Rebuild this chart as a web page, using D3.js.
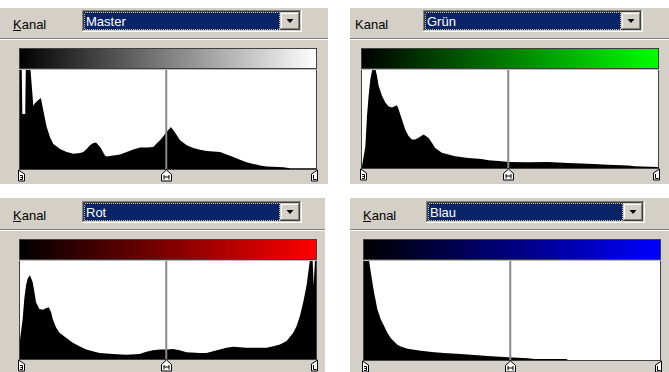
<!DOCTYPE html>
<html>
<head>
<meta charset="utf-8">
<script src="https://cdn.jsdelivr.net/npm/d3@7"></script>
<style>
  html, body { margin: 0; padding: 0; background: #fff; }
  svg { display: block; }
</style>
</head>
<body>
<svg id="chart" width="669" height="372"></svg>
<script>
// channel names and the label in front of each dropdown
const channels = ["Master", "Grün", "Rot", "Blau"];
const labelText = "Kanal";
const gradientEnd = ["#ffffff", "#00ff00", "#ff0000", "#0000ff"];
// slider positions (black, gray, white) on the 0..255 tone axis
const sliderLevels = [0, 126, 255];

// histograms: [tone level, relative height 0..1]
const masterHist = [
  [0, 1], [1.5, 1], [2, 0.55], [4.5, 0.55], [5, 1], [9, 1], [11.5, 0.63], [13, 0.66],
  [15.8, 0.69], [18, 0.71], [20, 0.59], [23, 0.42], [25.8, 0.32], [28.7, 0.25],
  [34.5, 0.2], [40.2, 0.17], [46, 0.153], [51.7, 0.159], [54.6, 0.169], [57.4, 0.2],
  [60.3, 0.237], [63.2, 0.26], [65.5, 0.264], [69, 0.22], [73.2, 0.136], [74.7, 0.125],
  [80.4, 0.136], [86.2, 0.146], [91.9, 0.169], [97.6, 0.196], [103.4, 0.214],
  [109.1, 0.214], [114.9, 0.22], [117.7, 0.254], [120.6, 0.288], [123.5, 0.328],
  [126.3, 0.373], [129.2, 0.407], [129.8, 0.42], [132, 0.39], [135, 0.34], [137.9, 0.288],
  [143.6, 0.237], [149.3, 0.21], [155, 0.193], [160.8, 0.18], [172.3, 0.169],
  [178, 0.146], [183.8, 0.119], [189.5, 0.092], [195.3, 0.068], [201, 0.051],
  [206.8, 0.034], [212.5, 0.024], [226.9, 0.017], [232.6, 0.007], [255, 0.007]
];
const gruenHist = [
  [0, 0.017], [2.9, 0.22], [4.3, 0.525], [5.7, 0.729], [7.2, 0.898], [8.6, 0.983],
  [10, 1], [11.5, 1], [12.9, 0.932], [14.3, 0.83], [17.2, 0.729], [20.1, 0.661],
  [22.9, 0.62], [25.8, 0.61], [30.1, 0.634], [31.5, 0.593], [34.4, 0.49], [37.2, 0.39],
  [40.1, 0.322], [43, 0.288], [45.8, 0.288], [48.7, 0.305], [53, 0.339], [57.3, 0.305],
  [60.2, 0.254], [63, 0.203], [68.8, 0.153], [74.5, 0.136], [80.2, 0.119], [91.7, 0.102],
  [103.1, 0.092], [108.9, 0.078], [120.3, 0.068], [126, 0.061], [143.3, 0.058],
  [160.4, 0.061], [177.6, 0.051], [194.8, 0.044], [212, 0.034], [229.2, 0.024],
  [235, 0.017], [255, 0.01]
];
const rotHist = [
  [0, 0.198], [2.3, 0.403], [3.7, 0.608], [5.2, 0.744], [6.6, 0.812], [8.6, 0.846],
  [10.9, 0.778], [12.4, 0.676], [13.8, 0.573], [16.7, 0.505], [19.6, 0.498],
  [22.4, 0.512], [24.8, 0.522], [26.8, 0.471], [28.2, 0.403], [31.1, 0.317], [34, 0.266],
  [39.7, 0.215], [45.5, 0.164], [51.2, 0.13], [57, 0.096], [62.7, 0.078], [68.5, 0.061],
  [80, 0.051], [91.5, 0.044], [103, 0.051], [108.8, 0.072], [114.5, 0.089],
  [120.3, 0.096], [126, 0.096], [131.8, 0.102], [137.6, 0.089], [143.3, 0.068],
  [154.8, 0.061], [160.6, 0.061], [166.3, 0.078], [172.1, 0.096], [177.9, 0.113],
  [183.6, 0.123], [189.4, 0.119], [195.1, 0.113], [212.4, 0.113], [218.2, 0.13],
  [223.9, 0.147], [229.7, 0.181], [235.4, 0.266], [238.3, 0.334], [241.2, 0.437],
  [244, 0.573], [246.9, 0.744], [248.4, 0.881], [249.8, 1], [252.1, 1], [253, 0.744],
  [254.1, 1], [255, 1]
];
const blauHist = [
  [0, 1], [4.3, 1], [5.8, 0.881], [7.2, 0.78], [8.6, 0.678], [10.1, 0.593], [11.5, 0.508],
  [13, 0.458], [14.4, 0.407], [17.3, 0.339], [20.2, 0.271], [23, 0.22], [25.9, 0.186],
  [28.8, 0.153], [31.7, 0.136], [37.5, 0.112], [43.2, 0.102], [49, 0.092], [60.5, 0.078],
  [72, 0.068], [83.5, 0.061], [95.1, 0.051], [106.6, 0.041], [123.9, 0.027],
  [141.2, 0.017], [146.9, 0.01], [174.3, 0.01], [175.7, 0], [255, 0]
];
const histData = [masterHist, gruenHist, rotHist, blauHist];

// where each dialog crop sits in the picture
const layout = [
  { bg: [0, 8, 328, 184], label: [13, 29], underline: true, drop: [82, 10, 302, 32], sep: 38, bar: [19, 48, 317, 68], bottom: 169 },
  { bg: [350, 8, 669, 184], label: [355, 29], underline: false, drop: [423, 10, 643, 32], sep: 38, bar: [361, 48, 659, 68], bottom: 168 },
  { bg: [0, 198, 325, 372], label: [13, 220], underline: true, drop: [82, 201, 302, 223], sep: 229, bar: [19, 239, 317, 259], bottom: 359 },
  { bg: [350, 198, 669, 372], label: [363, 220], underline: true, drop: [426, 201, 645, 223], sep: 229, bar: [363, 239, 661, 259], bottom: 360 }
];

const FACE = "#d4d0c8", SHADOW = "#808080", DARK = "#404040";
const FONT = "'Liberation Sans', Arial, sans-serif";

const svg = d3.select("#chart");
svg.append("rect").attr("width", 669).attr("height", 372).attr("fill", "#fff");
const defs = svg.append("defs");

function hline(g, x1, x2, y, c) {
  g.append("line").attr("x1", x1).attr("x2", x2).attr("y1", y + 0.5).attr("y2", y + 0.5)
    .attr("stroke", c).attr("shape-rendering", "crispEdges");
}
function vline(g, x, y1, y2, c) {
  g.append("line").attr("x1", x + 0.5).attr("x2", x + 0.5).attr("y1", y1).attr("y2", y2)
    .attr("stroke", c).attr("shape-rendering", "crispEdges");
}

channels.forEach((name, i) => {
  const L = layout[i];
  const g = svg.append("g");

  // dialog face
  g.append("rect")
    .attr("x", L.bg[0]).attr("y", L.bg[1])
    .attr("width", L.bg[2] - L.bg[0]).attr("height", L.bg[3] - L.bg[1])
    .attr("fill", FACE);

  // "Kanal" label
  g.append("text")
    .attr("x", L.label[0]).attr("y", L.label[1])
    .attr("font-family", FONT).attr("font-size", "13px").attr("fill", "#000")
    .text(labelText);
  if (L.underline) hline(g, L.label[0], L.label[0] + 8, L.label[1] + 1, "#000");

  // combo box, sunken 3D frame
  const [dx0, dy0, dx1, dy1] = L.drop;
  hline(g, dx0, dx1, dy0, SHADOW);
  vline(g, dx0, dy0, dy1, SHADOW);
  hline(g, dx0, dx1, dy1 - 1, "#fff");
  vline(g, dx1 - 1, dy0, dy1, "#fff");
  hline(g, dx0 + 1, dx1 - 1, dy0 + 1, DARK);
  vline(g, dx0 + 1, dy0 + 1, dy1 - 1, DARK);
  hline(g, dx0 + 1, dx1 - 1, dy1 - 2, FACE);
  vline(g, dx1 - 2, dy0 + 1, dy1 - 1, FACE);

  const bx1 = dx1 - 22;
  g.append("rect")
    .attr("x", dx0 + 2).attr("y", dy0 + 2)
    .attr("width", bx1 - dx0 - 2).attr("height", dy1 - dy0 - 4)
    .attr("fill", "#0a246a");
  g.append("rect")
    .attr("x", dx0 + 2.5).attr("y", dy0 + 2.5)
    .attr("width", bx1 - dx0 - 3).attr("height", dy1 - dy0 - 5)
    .attr("fill", "none").attr("stroke", "#d8c888").attr("stroke-dasharray", "1,1")
    .attr("shape-rendering", "crispEdges");
  g.append("text")
    .attr("x", dx0 + 4).attr("y", dy1 - 6)
    .attr("font-family", FONT).attr("font-size", "13px").attr("fill", "#fff")
    .text(name);

  // drop button, raised
  const bX = bx1, bY = dy0 + 2, bW = dx1 - 2 - bx1, bH = dy1 - dy0 - 4;
  g.append("rect").attr("x", bX).attr("y", bY).attr("width", bW).attr("height", bH).attr("fill", FACE);
  hline(g, bX, bX + bW, bY, FACE);
  vline(g, bX, bY, bY + bH, FACE);
  hline(g, bX + 1, bX + bW - 1, bY + 1, "#fff");
  vline(g, bX + 1, bY + 1, bY + bH - 1, "#fff");
  hline(g, bX, bX + bW, bY + bH - 1, DARK);
  vline(g, bX + bW - 1, bY, bY + bH, DARK);
  hline(g, bX + 1, bX + bW - 1, bY + bH - 2, SHADOW);
  vline(g, bX + bW - 2, bY + 1, bY + bH - 1, SHADOW);
  const ax = bX + bW / 2, ay = bY + bH / 2 - 1;
  g.append("path")
    .attr("d", `M${ax - 3.5},${ay - 1}H${ax + 3.5}L${ax},${ay + 3}Z`)
    .attr("fill", "#000");

  // etched separator
  hline(g, L.bg[0], L.bg[2], L.sep, SHADOW);
  hline(g, L.bg[0], L.bg[2], L.sep + 1, "#fff");

  // tone gradient bar
  const [gx0, gy0, gx1, gy1] = L.bar;
  const grad = defs.append("linearGradient").attr("id", "grad" + i)
    .attr("x1", "0%").attr("x2", "100%").attr("y1", "0%").attr("y2", "0%");
  grad.append("stop").attr("offset", "0%").attr("stop-color", "#000");
  grad.append("stop").attr("offset", "100%").attr("stop-color", gradientEnd[i]);
  g.append("rect")
    .attr("x", gx0).attr("y", gy0).attr("width", gx1 - gx0).attr("height", gy1 - gy0)
    .attr("fill", `url(#grad${i})`);

  // histogram box
  const bottom = L.bottom;
  g.append("rect")
    .attr("x", gx0).attr("y", gy1).attr("width", gx1 - gx0).attr("height", bottom - gy1)
    .attr("fill", "#fff");

  const x = d3.scaleLinear().domain([0, 255]).range([gx0 + 1, gx1 - 1]);
  const y = d3.scaleLinear().domain([0, 1]).range([bottom, gy1 + 1]);
  const area = d3.area()
    .x(d => x(d[0]))
    .y0(bottom)
    .y1(d => y(d[1]));
  g.append("path").datum(histData[i]).attr("d", area).attr("fill", "#000");

  // gamma midline
  g.append("line")
    .attr("x1", x(sliderLevels[1])).attr("x2", x(sliderLevels[1]))
    .attr("y1", gy1).attr("y2", bottom)
    .attr("stroke", "#888").attr("stroke-width", 2);

  // frame around bar + histogram
  g.append("rect")
    .attr("x", gx0 + 0.5).attr("y", gy0 + 0.5)
    .attr("width", gx1 - gx0 - 1).attr("height", bottom - gy0)
    .attr("fill", "none").attr("stroke", DARK).attr("shape-rendering", "crispEdges");
  hline(g, gx0, gx1, gy1, DARK);
  hline(g, gx0, gx1, gy1 + 1, "#bbb");

  // slider markers
  const top = bottom + 1;
  const mk = g.append("g").attr("fill", "#fff").attr("stroke", "#000").attr("stroke-width", 1);
  const lx = Math.round(x(sliderLevels[0])) - 1.5;
  mk.append("path").attr("d", `M${lx},${top}L${lx + 6},${top + 4}V${top + 11}H${lx}Z`);
  mk.append("path").attr("d", `M${lx + 1.5},${top + 5.5}H${lx + 4}V${top + 9.5}H${lx + 1.5}M${lx + 2},${top + 7.5}H${lx + 4}`).attr("fill", "none");

  const cx = Math.round(x(sliderLevels[1])) + 0.5;
  mk.append("path").attr("d", `M${cx - 5},${top + 11}V${top + 4.5}L${cx},${top}L${cx + 5},${top + 4.5}V${top + 11}Z`);
  mk.append("path").attr("d", `M${cx - 2.5},${top + 5}V${top + 9.5}M${cx + 2.5},${top + 5}V${top + 9.5}M${cx - 2.5},${top + 7}H${cx + 2.5}`).attr("fill", "none");

  const rx = Math.round(x(sliderLevels[2])) + 1.5;
  mk.append("path").attr("d", `M${rx},${top}L${rx - 6},${top + 4}V${top + 11}H${rx}Z`);
  mk.append("path").attr("d", `M${rx - 4},${top + 5}V${top + 9.5}H${rx - 1}`).attr("fill", "none");
});
</script>
</body>
</html>
